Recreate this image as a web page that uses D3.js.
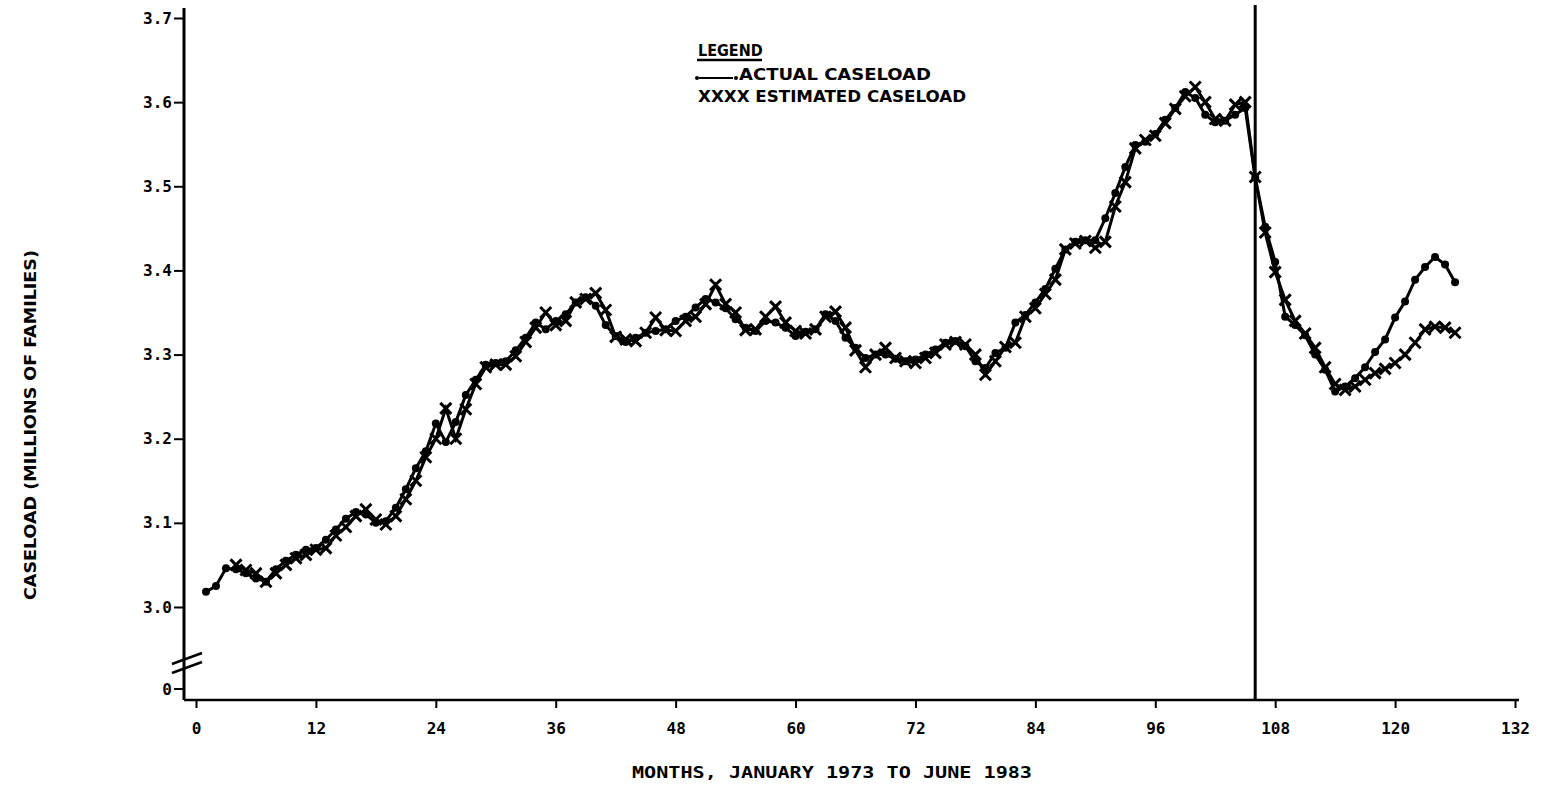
<!DOCTYPE html>
<html lang="en">
<head>
<meta charset="utf-8">
<title>Caseload, actual vs estimated</title>
<script src="https://cdn.jsdelivr.net/npm/d3@7"></script>
<style>
  body { margin: 0; background: #fff; }
  .axis path, .axis line { stroke: #000; }
  .tick text { font-family: "DejaVu Sans Mono", monospace; font-weight: bold; font-size: 16px; fill: #000; }
  .lbl { font-family: "Liberation Sans Narrow", "DejaVu Sans Condensed", sans-serif; font-weight: bold; fill: #000; }
</style>
</head>
<body>
<script>
// months since January 1973, actual caseload in millions of families
var actualMonths = d3.range(1, 127);
var actual = [
  3.018, 3.025, 3.046, 3.045, 3.040, 3.034, 3.030, 3.045, 3.055, 3.062,
  3.068, 3.070, 3.080, 3.092, 3.105, 3.113, 3.110, 3.100, 3.102, 3.118,
  3.140, 3.165, 3.185, 3.218, 3.196, 3.220, 3.252, 3.270, 3.288, 3.290,
  3.292, 3.305, 3.320, 3.338, 3.330, 3.340, 3.348, 3.362, 3.368, 3.358,
  3.335, 3.322, 3.315, 3.320, 3.326, 3.328, 3.330, 3.340, 3.345, 3.356,
  3.366, 3.362, 3.355, 3.342, 3.332, 3.328, 3.340, 3.338, 3.332, 3.322,
  3.327, 3.330, 3.348, 3.340, 3.320, 3.308, 3.296, 3.300, 3.300, 3.295,
  3.292, 3.294, 3.300, 3.306, 3.314, 3.316, 3.310, 3.292, 3.284, 3.302,
  3.308, 3.338, 3.347, 3.362, 3.378, 3.402, 3.425, 3.434, 3.436, 3.436,
  3.462, 3.492, 3.523, 3.549, 3.553, 3.562, 3.579, 3.593, 3.612, 3.605,
  3.585, 3.576, 3.578, 3.585, 3.593, 3.510, 3.452, 3.410, 3.345, 3.335,
  3.323, 3.300, 3.282, 3.256, 3.262, 3.272, 3.285, 3.303, 3.318, 3.344,
  3.363, 3.389, 3.404, 3.416, 3.407, 3.386
];
var estMonths = d3.range(4, 127);
var estimated = [
  3.050, 3.044, 3.040, 3.030, 3.040, 3.050, 3.058, 3.062, 3.068, 3.070,
  3.085, 3.095, 3.108, 3.116, 3.104, 3.098, 3.108, 3.128, 3.150, 3.178,
  3.200, 3.236, 3.200, 3.235, 3.265, 3.285, 3.288, 3.288, 3.298, 3.315,
  3.332, 3.350, 3.335, 3.340, 3.362, 3.366, 3.373, 3.353, 3.321, 3.318,
  3.316, 3.326, 3.344, 3.329, 3.328, 3.340, 3.345, 3.360, 3.383, 3.360,
  3.350, 3.329, 3.330, 3.345, 3.357, 3.338, 3.328, 3.325, 3.330, 3.345,
  3.351, 3.332, 3.305, 3.285, 3.300, 3.308, 3.296, 3.292, 3.290, 3.296,
  3.302, 3.312, 3.315, 3.312, 3.300, 3.276, 3.292, 3.309, 3.314, 3.345,
  3.355, 3.372, 3.389, 3.425, 3.432, 3.435, 3.427, 3.434, 3.476, 3.505,
  3.545, 3.555, 3.560, 3.575, 3.592, 3.607, 3.618, 3.600, 3.580, 3.578,
  3.597, 3.600, 3.511, 3.445, 3.398, 3.365, 3.340, 3.325, 3.308, 3.285,
  3.265, 3.258, 3.262, 3.270, 3.278, 3.283, 3.290, 3.300, 3.314, 3.330,
  3.333, 3.332, 3.326
];
var xTicks = [0, 12, 24, 36, 48, 60, 72, 84, 96, 108, 120, 132];
var yTicks = [3.0, 3.1, 3.2, 3.3, 3.4, 3.5, 3.6, 3.7];
var cutoffMonth = 106;

var w = 1547, h = 786;
var svg = d3.select("body").append("svg").attr("width", w).attr("height", h);
svg.append("rect").attr("width", w).attr("height", h).attr("fill", "#fff");

var x = d3.scaleLinear().domain([0, 132]).range([196, 1515]);
var y = d3.scaleLinear().domain([3.0, 3.7]).range([607, 18]);
var axisX = 184, axisY = 700;

// y axis (broken below 3.0)
var gy = svg.append("g").attr("class", "axis").attr("transform", "translate(" + axisX + ",0)")
  .call(d3.axisLeft(y).tickValues(yTicks).tickSize(10).tickPadding(2).tickFormat(d3.format(".1f")));
gy.select(".domain").remove();
gy.selectAll(".tick line").attr("stroke-width", 2);
svg.append("line").attr("x1", axisX).attr("x2", axisX).attr("y1", 8).attr("y2", axisY)
  .attr("stroke", "#000").attr("stroke-width", 3);
// zero tick below the break
svg.append("line").attr("x1", axisX - 10).attr("x2", axisX).attr("y1", 689).attr("y2", 689)
  .attr("stroke", "#000").attr("stroke-width", 2);
svg.append("text").attr("x", axisX - 12).attr("y", 689).attr("dy", "0.35em")
  .attr("text-anchor", "end").attr("font-family", "DejaVu Sans Mono").attr("font-weight", "bold")
  .attr("font-size", 16).text("0");
// break marks
[0, 9].forEach(function (o) {
  svg.append("line").attr("x1", 172).attr("y1", 664 + o).attr("x2", 202).attr("y2", 653 + o)
    .attr("stroke", "#000").attr("stroke-width", 2.5);
});

// x axis
var gx = svg.append("g").attr("class", "axis").attr("transform", "translate(0," + axisY + ")")
  .call(d3.axisBottom(x).tickValues(xTicks).tickSize(8).tickPadding(15).tickSizeOuter(0));
gx.select(".domain").remove();
gx.selectAll(".tick line").attr("stroke-width", 2);
svg.append("line").attr("x1", axisX).attr("x2", 1519).attr("y1", axisY).attr("y2", axisY)
  .attr("stroke", "#000").attr("stroke-width", 2.5);

// cutoff line
svg.append("line").attr("x1", x(cutoffMonth)).attr("x2", x(cutoffMonth)).attr("y1", 5).attr("y2", axisY)
  .attr("stroke", "#000").attr("stroke-width", 3);

// estimated series
var estData = estMonths.map(function (m, i) { return [m, estimated[i]]; });
var line = d3.line().x(function (d) { return x(d[0]); }).y(function (d) { return y(d[1]); });
svg.append("path").datum(estData).attr("d", line).attr("fill", "none")
  .attr("stroke", "#000").attr("stroke-width", 3);
svg.selectAll(".xm").data(estData).enter().append("path").attr("class", "xm")
  .attr("transform", function (d) { return "translate(" + x(d[0]) + "," + y(d[1]) + ")"; })
  .attr("d", "M-5.5,-5.5L5.5,5.5M-5.5,5.5L5.5,-5.5").attr("stroke", "#000").attr("stroke-width", 3);

// actual series
var actData = actualMonths.map(function (m, i) { return [m, actual[i]]; });
svg.append("path").datum(actData).attr("d", line).attr("fill", "none")
  .attr("stroke", "#000").attr("stroke-width", 3);
svg.selectAll(".dot").data(actData).enter().append("circle").attr("class", "dot")
  .attr("cx", function (d) { return x(d[0]); }).attr("cy", function (d) { return y(d[1]); })
  .attr("r", 4).attr("fill", "#000");

// legend
svg.append("text").attr("class", "lbl").attr("x", 698).attr("y", 56).attr("font-size", 16).text("LEGEND");
svg.append("line").attr("x1", 697).attr("x2", 762).attr("y1", 60).attr("y2", 60).attr("stroke", "#000").attr("stroke-width", 2.5);
svg.append("circle").attr("cx", 697).attr("cy", 78).attr("r", 2).attr("fill", "#000");
svg.append("line").attr("x1", 699).attr("x2", 733).attr("y1", 78).attr("y2", 78).attr("stroke", "#000").attr("stroke-width", 2);
svg.append("circle").attr("cx", 736).attr("cy", 78).attr("r", 2).attr("fill", "#000");
svg.append("text").attr("class", "lbl").attr("x", 739).attr("y", 80).attr("font-size", 16)
  .attr("textLength", 192).attr("lengthAdjust", "spacingAndGlyphs").text("ACTUAL CASELOAD");
svg.append("text").attr("class", "lbl").attr("x", 698).attr("y", 102).attr("font-size", 16)
  .attr("textLength", 268).attr("lengthAdjust", "spacingAndGlyphs").text("XXXX ESTIMATED CASELOAD");

// axis titles
svg.append("text").attr("class", "lbl").attr("font-size", 15)
  .attr("transform", "translate(36,425) rotate(-90)").attr("text-anchor", "middle")
  .attr("textLength", 350).attr("lengthAdjust", "spacingAndGlyphs")
  .text("CASELOAD (MILLIONS OF FAMILIES)");
svg.append("text").attr("x", 832).attr("y", 778).attr("text-anchor", "middle")
  .attr("font-family", "DejaVu Sans Mono").attr("font-weight", "bold").attr("font-size", 16)
  .attr("textLength", 400).attr("lengthAdjust", "spacingAndGlyphs")
  .text("MONTHS, JANUARY 1973 TO JUNE 1983");
</script>
</body>
</html>
